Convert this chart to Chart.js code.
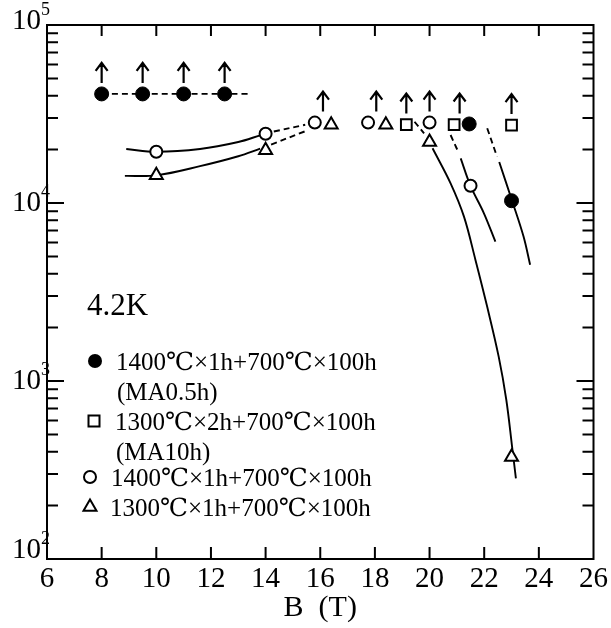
<!DOCTYPE html>
<html>
<head>
<meta charset="utf-8">
<script src="https://cdn.jsdelivr.net/npm/chart.js@4.4.1/dist/chart.umd.min.js"></script>
<style>
  html, body { margin: 0; padding: 0; background: #fff; }
  #wrap { width: 611px; height: 628px; }
</style>
</head>
<body>
<div id="wrap"><canvas id="jcChart" width="611" height="628"></canvas></div>
<script>
/* =========================================================
   Jc vs B at 4.2K, four heat treatments, log y axis.
   Markers with an arrow = lower bound (value not reached).
   ========================================================= */

const SERIF = "'Liberation Serif', 'DejaVu Serif', serif";

// ---- axis ticks ----
const xTickValues = [6, 8, 10, 12, 14, 16, 18, 20, 22, 24, 26];
const yDecades = [100, 1000, 10000, 100000];
const yMinorSteps = [2, 3, 4, 5, 6, 7, 8, 9];

// ---- measured points ----
// 1400℃×1h+700℃×100h (MA0.5h), filled circles
const filledB = [8, 9.5, 11, 12.5, 21.45, 23.0];
const filledJc = [41000, 41000, 41000, 41000, 27800, 10300];
// 1300℃×2h+700℃×100h (MA10h), squares
const squareB = [19.15, 20.9, 23.0];
const squareJc = [27600, 27600, 27400];
// 1400℃×1h+700℃×100h, open circles
const circleB = [10, 14, 15.8, 17.75, 20.0, 21.5];
const circleJc = [19400, 24500, 28300, 28300, 28300, 12500];
// 1300℃×1h+700℃×100h, open triangles
const triB = [10, 14, 16.4, 18.4, 20.0, 23.0];
const triJc = [14300, 19800, 27500, 27500, 22000, 374];

// lower-bound arrows (placed above these points)
const arrowB = [8, 9.5, 11, 12.5, 16.1, 18.05, 19.15, 20.0, 21.1, 23.0];
const arrowJc = [41000, 41000, 41000, 41000, 28300, 28300, 27600, 28300, 27600, 27400];

// ---- guide curves ----
const topDashB = [8, 13.4];
const topDashJc = [41000, 41000];

const circleLowB = [8.9, 10, 11.6, 13.0, 13.8];
const circleLowJc = [20100, 19400, 20100, 22000, 24000];
const circleMidB = [14.3, 15.45];
const circleMidJc = [25200, 27500];

const triLowB = [8.85, 10, 11.6, 13.0, 13.8];
const triLowJc = [14200, 14300, 16100, 18300, 20200];
const triMidB = [14.2, 15.45];
const triMidJc = [21300, 25300];

const triDropDashB = [19.45, 19.8];
const triDropDashJc = [28600, 24600];
const triDropB = [20.11, 20.77, 21.26, 21.68, 22.11, 22.53, 22.81, 23.02, 23.16];
const triDropJc = [20300, 12900, 8380, 4790, 2610, 1370, 782, 428, 284];

const circleDropDashB = [20.77, 21.05];
const circleDropDashJc = [24100, 19400];
const circleDropB = [21.14, 21.5, 21.99, 22.41];
const circleDropJc = [17800, 12470, 8750, 6060];

const filledDropDashB = [22.11, 22.47];
const filledDropDashJc = [26300, 18200];
const filledDropB = [22.55, 23.02, 23.44, 23.68];
const filledDropJc = [17000, 10300, 6480, 4500];

// ---- legend text ----
const legendStyles = ['filled', 'square', 'circle', 'triangle'];
const legendText = ['1400℃×1h+700℃×100h', '1300℃×2h+700℃×100h', '1400℃×1h+700℃×100h', '1300℃×1h+700℃×100h'];
const legendNote = ['(MA0.5h)', '(MA10h)', '', ''];
const tempLabel = '4.2K';

function pts(xs, ys) {
  return xs.map((x, i) => ({ x, y: ys[i] }));
}

function curve(xs, ys, dashed) {
  return {
    type: 'line',
    data: pts(xs, ys),
    borderColor: '#000',
    borderWidth: 1.9,
    borderDash: dashed ? [6, 4] : [],
    pointRadius: 0,
    fill: false,
    tension: 0.35,
    order: 2,
  };
}

function markers(xs, ys, style, radius, filled) {
  return {
    type: 'scatter',
    data: pts(xs, ys),
    pointStyle: style,
    pointRadius: radius,
    pointBorderWidth: filled ? 1 : 2,
    pointBorderColor: '#000',
    pointBackgroundColor: filled ? '#000' : '#fff',
    order: 1,
  };
}

/** Small marker painter for the in-plot legend (same shapes as Chart.js). */
function drawMarker(ctx, style, x, y) {
  ctx.save();
  ctx.strokeStyle = '#000';
  ctx.lineWidth = 2;
  ctx.beginPath();
  if (style === 'filled') {
    ctx.arc(x, y, 7, 0, Math.PI * 2);
    ctx.fillStyle = '#000';
    ctx.fill();
  } else if (style === 'circle') {
    ctx.arc(x, y, 6, 0, Math.PI * 2);
    ctx.stroke();
  } else if (style === 'square') {
    ctx.rect(x - 5.5, y - 5.5, 11, 11);
    ctx.stroke();
  } else {
    const r = 7.5;
    ctx.moveTo(x, y - r);
    ctx.lineTo(x + r * 0.866, y + r / 2);
    ctx.lineTo(x - r * 0.866, y + r / 2);
    ctx.closePath();
    ctx.stroke();
  }
  ctx.restore();
}

const figurePlugin = {
  id: 'figurePlugin',
  afterDatasetsDraw(chart) {
    const { ctx, scales: { x, y } } = chart;
    // lower-bound arrows
    ctx.save();
    ctx.strokeStyle = '#000';
    ctx.lineWidth = 2.2;
    ctx.beginPath();
    arrowB.forEach((b, i) => {
      const px = x.getPixelForValue(b);
      const py = y.getPixelForValue(arrowJc[i]);
      ctx.moveTo(px, py - 11);
      ctx.lineTo(px, py - 31);
      ctx.moveTo(px - 6, py - 23);
      ctx.lineTo(px, py - 31);
      ctx.lineTo(px + 6, py - 23);
    });
    ctx.stroke();
    ctx.restore();
  },
  afterDraw(chart) {
    const { ctx, chartArea: a, scales: { x, y } } = chart;
    ctx.save();
    ctx.strokeStyle = '#000';
    ctx.fillStyle = '#000';
    ctx.lineWidth = 2;
    ctx.strokeRect(a.left, a.top, a.right - a.left, a.bottom - a.top);

    // inward tick marks on all four sides
    ctx.beginPath();
    xTickValues.slice(1, -1).forEach((v) => {
      const px = x.getPixelForValue(v);
      ctx.moveTo(px, a.bottom); ctx.lineTo(px, a.bottom - 12);
      ctx.moveTo(px, a.top); ctx.lineTo(px, a.top + 11);
    });
    yDecades.forEach((d, i) => {
      if (i > 0 && i < yDecades.length - 1) {
        const py = y.getPixelForValue(d);
        ctx.moveTo(a.left, py); ctx.lineTo(a.left + 17, py);
        ctx.moveTo(a.right, py); ctx.lineTo(a.right - 17, py);
      }
      if (i < yDecades.length - 1) {
        yMinorSteps.forEach((s) => {
          const py = y.getPixelForValue(d * s);
          ctx.moveTo(a.left, py); ctx.lineTo(a.left + 11, py);
          ctx.moveTo(a.right, py); ctx.lineTo(a.right - 11, py);
        });
      }
    });
    ctx.stroke();

    // y labels as 10 with a raised exponent
    yDecades.forEach((d, i) => {
      let py = y.getPixelForValue(d);
      if (i === 0) py -= 9;
      if (i === yDecades.length - 1) py -= 4;
      ctx.font = `29px ${SERIF}`;
      ctx.textAlign = 'right';
      ctx.textBaseline = 'middle';
      ctx.fillText('10', a.left - 6, py);
      ctx.font = `18px ${SERIF}`;
      ctx.textAlign = 'left';
      ctx.fillText(String(Math.round(Math.log10(d))), a.left - 6, py - 11);
    });

    // temperature tag + legend inside the plot
    ctx.textAlign = 'left';
    ctx.textBaseline = 'middle';
    ctx.font = `31px ${SERIF}`;
    ctx.fillText(tempLabel, a.left + 40, 307);

    const rowY = [361, 421, 477, 507];
    const markX = [95, 94, 90, 90];
    const textX = [116, 115, 111, 110];
    ctx.font = `25px ${SERIF}`;
    legendStyles.forEach((style, i) => {
      drawMarker(ctx, style, markX[i], rowY[i]);
      ctx.fillText(legendText[i], textX[i], rowY[i] + 2);
      if (legendNote[i]) ctx.fillText(legendNote[i], textX[i] + 1, rowY[i] + 32);
    });
    ctx.restore();
  },
};

new Chart(document.getElementById('jcChart'), {
  type: 'scatter',
  data: {
    datasets: [
      curve(topDashB, topDashJc, true),
      curve(circleLowB, circleLowJc, false),
      curve(circleMidB, circleMidJc, true),
      curve(triLowB, triLowJc, false),
      curve(triMidB, triMidJc, true),
      curve(triDropDashB, triDropDashJc, true),
      curve(triDropB, triDropJc, false),
      curve(circleDropDashB, circleDropDashJc, true),
      curve(circleDropB, circleDropJc, false),
      curve(filledDropDashB, filledDropDashJc, true),
      curve(filledDropB, filledDropJc, false),
      markers(triB, triJc, 'triangle', 7.5, false),
      markers(circleB, circleJc, 'circle', 6, false),
      markers(squareB, squareJc, 'rect', 7.6, false),
      markers(filledB, filledJc, 'circle', 7, true),
    ],
  },
  options: {
    responsive: false,
    animation: false,
    events: [],
    layout: { padding: { top: 25, right: 14, left: 0, bottom: 0 } },
    plugins: { legend: { display: false }, tooltip: { enabled: false } },
    scales: {
      x: {
        type: 'linear',
        min: 6,
        max: 26,
        ticks: { stepSize: 2, color: '#000', padding: 3, maxRotation: 0, font: { family: SERIF, size: 29 } },
        grid: { display: false, drawTicks: false },
        border: { display: false },
        title: { display: true, text: 'B  (T)', color: '#000', font: { family: SERIF, size: 30 }, padding: { top: 0, bottom: 2 } },
        afterFit: (s) => { s.height = 69; },
      },
      y: {
        type: 'logarithmic',
        min: 100,
        max: 100000,
        ticks: { display: false },
        grid: { display: false, drawTicks: false },
        border: { display: false },
        afterFit: (s) => { s.width = 47; },
      },
    },
  },
  plugins: [figurePlugin],
});
</script>
</body>
</html>
